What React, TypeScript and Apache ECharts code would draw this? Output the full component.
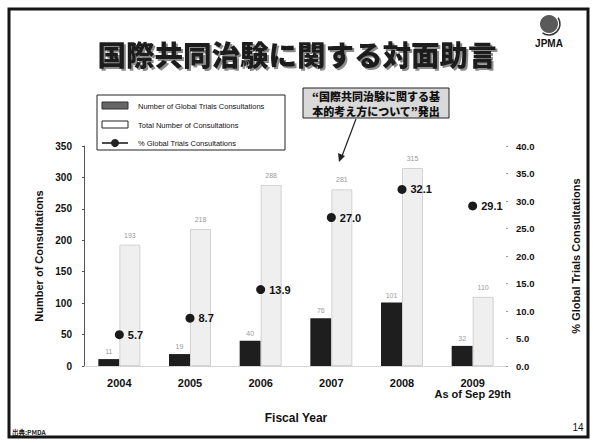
import React, { useEffect, useRef } from "react";
import * as echarts from "echarts";

const years = ["2004", "2005", "2006", "2007", "2008", "2009\nAs of Sep 29th"];
const globalConsult = [11, 19, 40, 76, 101, 32];
const totalConsult = [193, 218, 288, 281, 315, 110];
const pctGlobal = [5.7, 8.7, 13.9, 27.0, 32.1, 29.1];

const leftTicks = { min: 0, max: 350, interval: 50 };
const rightTicks = { min: 0, max: 40, interval: 5 };

const seriesNames = [
  "Number of Global Trials Consultations",
  "Total Number of Consultations",
  "% Global Trials Consultations",
];

const FONT = "'Liberation Sans', Arial, sans-serif";
const CJK = "'Noto Sans CJK JP', sans-serif";

export default function App() {
  const ref = useRef<HTMLDivElement>(null);
  useEffect(() => {
    if (!ref.current) return;
    const chart = echarts.init(ref.current, null, { renderer: "svg" });
    chart.setOption({
      animation: false,
      backgroundColor: "#ffffff",
      grid: { left: 84, right: 85, top: 146, bottom: 77 },
      xAxis: {
        type: "category",
        data: years,
        axisLine: { show: true, lineStyle: { color: "#cccccc", type: "dotted" } },
        axisTick: { show: false },
        axisLabel: {
          interval: 0,
          margin: 11,
          color: "#111",
          fontFamily: FONT,
          fontWeight: "bold",
          fontSize: 11,
          lineHeight: 11,
        },
        name: "Fiscal Year",
        nameLocation: "middle",
        nameGap: 46,
        nameTextStyle: { fontFamily: FONT, fontWeight: "bold", fontSize: 12, color: "#111" },
      },
      yAxis: [
        {
          type: "value",
          ...leftTicks,
          axisLine: { show: true, lineStyle: { color: "#555", width: 1 } },
          axisTick: { show: true, length: 2, lineStyle: { color: "#555" } },
          splitLine: { show: false },
          axisLabel: {
            margin: 12,
            color: "#111",
            fontFamily: FONT,
            fontWeight: "bold",
            fontSize: 10,
          },
          name: "Number of Consultations",
          nameLocation: "middle",
          nameGap: 40,
          nameRotate: 90,
          nameTextStyle: { fontFamily: FONT, fontWeight: "bold", fontSize: 11, color: "#111" },
        },
        {
          type: "value",
          ...rightTicks,
          position: "right",
          axisLine: { show: false },
          axisTick: { show: true, length: 2, inside: true, lineStyle: { color: "#999" } },
          splitLine: { show: false },
          axisLabel: {
            margin: 8,
            color: "#111",
            fontFamily: FONT,
            fontWeight: "bold",
            fontSize: 9.5,
            formatter: (v: number) => v.toFixed(1),
          },
          name: "% Global Trials Consultations",
          nameLocation: "middle",
          nameGap: 62,
          nameRotate: 90,
          nameTextStyle: { fontFamily: FONT, fontWeight: "bold", fontSize: 11, color: "#111" },
        },
      ],
      series: [
        {
          name: seriesNames[0],
          type: "bar",
          data: globalConsult,
          barWidth: 21,
          barGap: "0%",
          itemStyle: { color: "#1e1e1e" },
          label: {
            show: true,
            position: "top",
            distance: 4,
            color: "#9a9a9a",
            fontSize: 7,
            fontFamily: FONT,
          },
        },
        {
          name: seriesNames[1],
          type: "bar",
          data: totalConsult,
          barWidth: 21,
          barGap: "0%",
          itemStyle: { color: "#efefef", borderColor: "#d2d2d2", borderWidth: 1 },
          label: {
            show: true,
            position: "top",
            distance: 6,
            color: "#9a9a9a",
            fontSize: 7,
            fontFamily: FONT,
          },
        },
        {
          name: seriesNames[2],
          type: "line",
          yAxisIndex: 1,
          data: pctGlobal,
          symbol: "circle",
          symbolSize: 9,
          itemStyle: { color: "#1a1a1a" },
          lineStyle: { width: 0, opacity: 0 },
          label: {
            show: true,
            position: "right",
            distance: 4,
            color: "#111",
            fontFamily: FONT,
            fontWeight: "bold",
            fontSize: 11,
            formatter: (p: any) => Number(p.value).toFixed(1),
          },
          z: 5,
        },
      ],
      graphic: [
        {
          type: "rect",
          shape: { x: 9, y: 9, width: 579, height: 428 },
          style: { fill: "none", stroke: "#151515", lineWidth: 3 },
          z: 100,
        },
        {
          type: "text",
          x: 297,
          y: 53,
          style: {
            text: "国際共同治験に関する対面助言",
            font: `900 28.5px ${CJK}`,
            fill: "#1a1a1a",
            textAlign: "center",
            textVerticalAlign: "middle",
            textShadowColor: "rgba(0,0,0,0.45)",
            textShadowOffsetX: 2,
            textShadowOffsetY: 2,
            textShadowBlur: 1,
          },
          z: 100,
        },
        {
          type: "circle",
          shape: { cx: 549, cy: 24, r: 9 },
          style: { fill: "#5a5a5a" },
          z: 100,
        },
        {
          type: "arc",
          shape: { cx: 549, cy: 24, r: 11, startAngle: -0.6, endAngle: 2.2 },
          style: { stroke: "#333", lineWidth: 1.5, fill: "none" },
          z: 100,
        },
        {
          type: "text",
          x: 549,
          y: 43,
          style: {
            text: "JPMA",
            font: `bold 10px ${FONT}`,
            fill: "#111",
            textAlign: "center",
            textVerticalAlign: "middle",
          },
          z: 100,
        },
        {
          type: "rect",
          shape: { x: 97, y: 95, width: 188, height: 55 },
          style: { fill: "#fff", stroke: "#222", lineWidth: 1 },
          z: 100,
        },
        {
          type: "rect",
          shape: { x: 102, y: 102, width: 26, height: 7 },
          style: { fill: "#666", stroke: "#333", lineWidth: 1 },
          z: 101,
        },
        {
          type: "text",
          x: 138,
          y: 106,
          style: {
            text: seriesNames[0],
            font: `7.5px ${FONT}`,
            fill: "#111",
            textVerticalAlign: "middle",
          },
          z: 101,
        },
        {
          type: "rect",
          shape: { x: 102, y: 121, width: 26, height: 7 },
          style: { fill: "#fff", stroke: "#222", lineWidth: 1 },
          z: 101,
        },
        {
          type: "text",
          x: 138,
          y: 125,
          style: {
            text: seriesNames[1],
            font: `7.5px ${FONT}`,
            fill: "#111",
            textVerticalAlign: "middle",
          },
          z: 101,
        },
        {
          type: "line",
          shape: { x1: 102, y1: 143, x2: 128, y2: 143 },
          style: { stroke: "#111", lineWidth: 1.5 },
          z: 101,
        },
        {
          type: "circle",
          shape: { cx: 115, cy: 143, r: 4 },
          style: { fill: "#222" },
          z: 102,
        },
        {
          type: "text",
          x: 138,
          y: 143,
          style: {
            text: seriesNames[2],
            font: `7.5px ${FONT}`,
            fill: "#111",
            textVerticalAlign: "middle",
          },
          z: 101,
        },
        {
          type: "rect",
          shape: { x: 303, y: 88, width: 146, height: 30 },
          style: { fill: "#d9d9d9", stroke: "#222", lineWidth: 1 },
          z: 100,
        },
        {
          type: "text",
          x: 376,
          y: 96,
          style: {
            text: "\u201c国際共同治験に関する基",
            font: `900 11px ${CJK}`,
            fill: "#111",
            textAlign: "center",
            textVerticalAlign: "middle",
            textShadowColor: "rgba(0,0,0,0.35)",
            textShadowOffsetX: 1,
            textShadowOffsetY: 1,
          },
          z: 101,
        },
        {
          type: "text",
          x: 376,
          y: 111,
          style: {
            text: "本的考え方について\u201d発出",
            font: `900 11px ${CJK}`,
            fill: "#111",
            textAlign: "center",
            textVerticalAlign: "middle",
            textShadowColor: "rgba(0,0,0,0.35)",
            textShadowOffsetX: 1,
            textShadowOffsetY: 1,
          },
          z: 101,
        },
        {
          type: "line",
          shape: { x1: 356, y1: 119, x2: 342, y2: 156 },
          style: { stroke: "#222", lineWidth: 1.2 },
          z: 100,
        },
        {
          type: "polygon",
          shape: { points: [[339, 162], [338, 153], [345, 156]] },
          style: { fill: "#222" },
          z: 100,
        },
        {
          type: "text",
          x: 12,
          y: 432,
          style: {
            text: "出典:PMDA",
            font: `bold 6.5px ${CJK}`,
            fill: "#222",
            textVerticalAlign: "middle",
          },
          z: 100,
        },
        {
          type: "text",
          x: 578,
          y: 427,
          style: {
            text: "14",
            font: `10px ${FONT}`,
            fill: "#111",
            textAlign: "center",
            textVerticalAlign: "middle",
          },
          z: 100,
        },
      ],
    });
    return () => chart.dispose();
  }, []);
  return (
    <div
      ref={ref}
      style={{ position: "absolute", left: 0, top: 0, width: 593, height: 443 }}
    />
  );
}
